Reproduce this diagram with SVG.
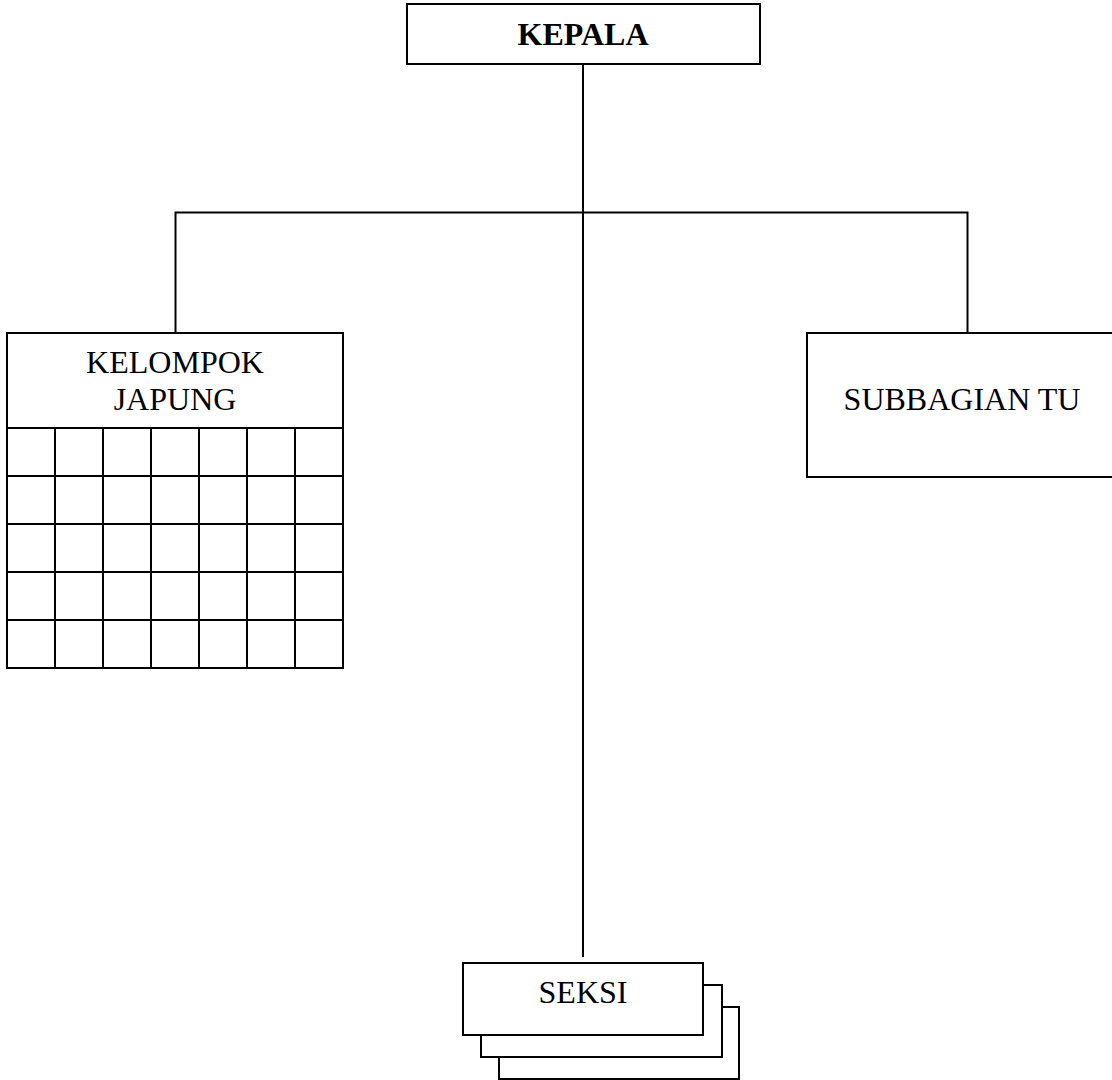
<svg xmlns="http://www.w3.org/2000/svg" width="1112" height="1080" viewBox="0 0 1112 1080">
<style>
.box{fill:#fff;stroke:#000;stroke-width:2}
.ln{fill:none;stroke:#000;stroke-width:2}
.t{font-family:"Liberation Serif","Times New Roman",serif;font-size:32px;fill:#000;text-anchor:middle}
.b{font-weight:bold}
</style>
<rect width="1112" height="1080" fill="#fff"/>
<g id="connectors">
<line class="ln" x1="583" y1="64" x2="583" y2="957"/>
<polyline class="ln" points="175.5,333 175.5,212.5 967.5,212.5 967.5,333"/>
</g>
<g id="kepala">
<rect class="box" x="407" y="4" width="353" height="60"/>
<text class="t b" x="583" y="45">KEPALA</text>
</g>
<g id="kelompok-japung">
<rect class="box" x="7" y="333" width="336" height="335"/>
<text class="t" x="175" y="373">KELOMPOK</text>
<text class="t" x="175" y="410">JAPUNG</text>
<path class="ln" d="M7 428H343M7 476H343M7 524H343M7 572H343M7 620H343M55 428V668M103 428V668M151 428V668M199 428V668M247 428V668M295 428V668"/>
</g>
<g id="subbagian-tu">
<rect class="box" x="807" y="333" width="310" height="144"/>
<text class="t" x="962" y="410">SUBBAGIAN TU</text>
</g>
<g id="seksi">
<rect class="box" x="499" y="1007" width="240" height="72"/>
<rect class="box" x="481" y="985" width="241" height="72"/>
<rect class="box" x="463" y="963" width="240" height="72"/>
<text class="t" x="583" y="1003">SEKSI</text>
</g>
</svg>
